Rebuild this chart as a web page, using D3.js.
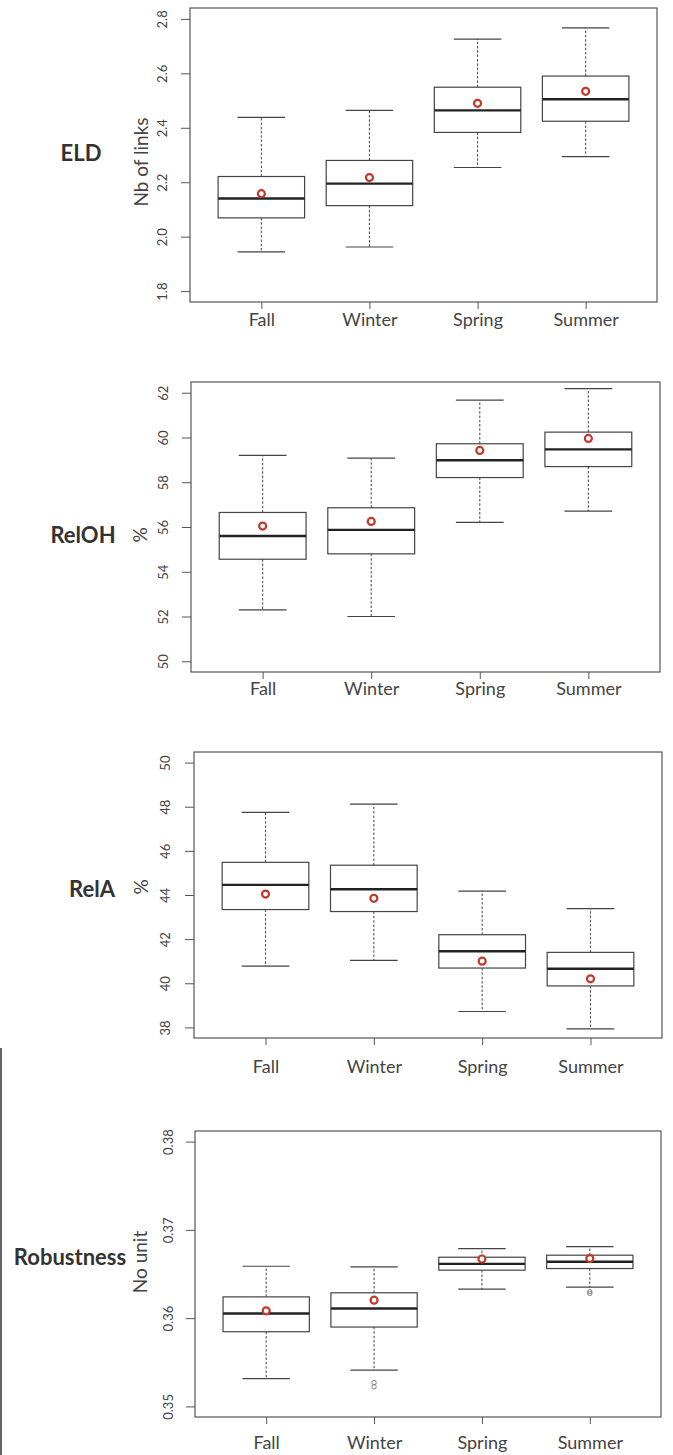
<!DOCTYPE html>
<html>
<head>
<meta charset="utf-8">
<script src="https://cdn.jsdelivr.net/npm/d3@7"></script>
<style>
  html, body { margin: 0; padding: 0; background: #fff; }
  svg { display: block; }
  .tick text { fill: #444; }
</style>
</head>
<body>
<svg id="chart"></svg>
<script>
// seasons on the x axis
const seasons = ["Fall", "Winter", "Spring", "Summer"];

// box stats per season: [lower whisker, q1, median, q3, upper whisker]
const eldStats = [
  [1.944, 2.069, 2.140, 2.221, 2.438],
  [1.962, 2.114, 2.195, 2.280, 2.464],
  [2.254, 2.383, 2.464, 2.549, 2.726],
  [2.294, 2.424, 2.505, 2.590, 2.767]
];
const eldMeans = [2.158, 2.217, 2.490, 2.534];
const eldOutliers = [[], [], [], []];
const eldTicks = [1.8, 2.0, 2.2, 2.4, 2.6, 2.8];

const relohStats = [
  [52.3, 54.56, 55.60, 56.65, 59.20],
  [52.0, 54.80, 55.87, 56.86, 59.08],
  [56.21, 58.21, 58.98, 59.72, 61.67],
  [56.71, 58.70, 59.47, 60.24, 62.18]
];
const relohMeans = [56.04, 56.25, 59.42, 59.96];
const relohOutliers = [[], [], [], []];
const relohTicks = [50, 52, 54, 56, 58, 60, 62];

const relaStats = [
  [40.78, 43.34, 44.46, 45.48, 47.74],
  [41.04, 43.25, 44.26, 45.35, 48.12],
  [38.72, 40.69, 41.45, 42.20, 44.18],
  [37.93, 39.88, 40.66, 41.40, 43.38]
];
const relaMeans = [44.04, 43.85, 41.00, 40.20];
const relaOutliers = [[], [], [], []];
const relaTicks = [38, 40, 42, 44, 46, 48, 50];

const robStats = [
  [0.35315, 0.35846, 0.36053, 0.36241, 0.36588],
  [0.35410, 0.35899, 0.36110, 0.36287, 0.36580],
  [0.36328, 0.36543, 0.36615, 0.36690, 0.36788],
  [0.36351, 0.36562, 0.36638, 0.36713, 0.36811]
];
const robMeans = [0.36083, 0.36203, 0.36670, 0.36675];
const robOutliers = [[], [0.35270, 0.35222], [], [0.36300, 0.36280]];
const robTicks = [0.35, 0.36, 0.37, 0.38];

// layout of the four panels (pixels)
const panels = [
  { name: "ELD", unit: "Nb of links", stats: eldStats, means: eldMeans, outliers: eldOutliers, ticks: eldTicks, fmt: ".1f",
    left: 190, right: 657, top: 8, bottom: 302, nameX: 81, nameY: 153, unitX: 141, unitY: 162, tickOff: 28, labelOff: 18 },
  { name: "RelOH", unit: "%", stats: relohStats, means: relohMeans, outliers: relohOutliers, ticks: relohTicks, fmt: "d",
    left: 191, right: 660, top: 382, bottom: 672, nameX: 83, nameY: 535, unitX: 140, unitY: 535, tickOff: 28, labelOff: 17 },
  { name: "RelA", unit: "%", stats: relaStats, means: relaMeans, outliers: relaOutliers, ticks: relaTicks, fmt: "d",
    left: 194, right: 662, top: 752, bottom: 1038, nameX: 92, nameY: 889, unitX: 141, unitY: 887, tickOff: 29, labelOff: 29 },
  { name: "Robustness", unit: "No unit", stats: robStats, means: robMeans, outliers: robOutliers, ticks: robTicks, fmt: ".2f",
    left: 195, right: 661, top: 1131, bottom: 1417, nameX: 70, nameY: 1257, unitX: 140, unitY: 1262, tickOff: 27, labelOff: 26 }
];

const W = 673, H = 1455;
const svg = d3.select("#chart").attr("width", W).attr("height", H);

// scanned page edge on the lower left
svg.append("rect").attr("x", 0).attr("y", 1048).attr("width", 2).attr("height", H - 1048).attr("fill", "#666");

panels.forEach(p => {
  const g = svg.append("g");

  const x = d3.scalePoint().domain(seasons).range([p.left, p.right]).padding(0.66);
  const lo = p.ticks[0], hi = p.ticks[p.ticks.length - 1];
  const pad = (hi - lo) * 0.04;
  const y = d3.scaleLinear().domain([lo - pad, hi + pad]).range([p.bottom, p.top]);

  const step = x.step();
  const bw = step * 0.4;   // half box width
  const cw = step * 0.22;  // half staple width

  // y axis
  const ya = g.append("g").attr("transform", `translate(${p.left},0)`)
    .call(d3.axisLeft(y).tickValues(p.ticks).tickSize(9).tickSizeOuter(0).tickFormat(d3.format(p.fmt)));
  ya.select(".domain").remove();
  ya.selectAll("line").attr("stroke", "#555");
  ya.selectAll("text")
    .attr("transform", "rotate(-90)")
    .attr("x", 0).attr("y", -p.tickOff).attr("dy", "0.35em")
    .attr("text-anchor", "middle")
    .style("font", "13px Lato, sans-serif");

  // x axis
  const xa = g.append("g").attr("transform", `translate(0,${p.bottom})`)
    .call(d3.axisBottom(x).tickSize(7).tickSizeOuter(0));
  xa.select(".domain").remove();
  xa.selectAll("line").attr("stroke", "#555");
  xa.selectAll("text")
    .attr("y", p.labelOff).attr("dy", "0.35em")
    .style("font", "18px Lato, sans-serif");

  // frame
  g.append("rect")
    .attr("x", p.left).attr("y", p.top)
    .attr("width", p.right - p.left).attr("height", p.bottom - p.top)
    .attr("fill", "none").attr("stroke", "#555").attr("stroke-width", 1.2);

  // boxes
  const box = g.selectAll(".box").data(seasons).join("g").attr("class", "box");

  box.append("line") // upper whisker
    .attr("x1", d => x(d)).attr("x2", d => x(d))
    .attr("y1", (d, i) => y(p.stats[i][3])).attr("y2", (d, i) => y(p.stats[i][4]))
    .attr("stroke", "#555").attr("stroke-width", 1.1).attr("stroke-dasharray", "2.5,1.8");
  box.append("line") // lower whisker
    .attr("x1", d => x(d)).attr("x2", d => x(d))
    .attr("y1", (d, i) => y(p.stats[i][1])).attr("y2", (d, i) => y(p.stats[i][0]))
    .attr("stroke", "#555").attr("stroke-width", 1.1).attr("stroke-dasharray", "2.5,1.8");
  [0, 4].forEach(k => {
    box.append("line")
      .attr("x1", d => x(d) - cw).attr("x2", d => x(d) + cw)
      .attr("y1", (d, i) => y(p.stats[i][k])).attr("y2", (d, i) => y(p.stats[i][k]))
      .attr("stroke", "#444").attr("stroke-width", 1.2);
  });
  box.append("rect")
    .attr("x", d => x(d) - bw).attr("width", bw * 2)
    .attr("y", (d, i) => y(p.stats[i][3]))
    .attr("height", (d, i) => y(p.stats[i][1]) - y(p.stats[i][3]))
    .attr("fill", "#fff").attr("stroke", "#444").attr("stroke-width", 1.2);
  box.append("line") // median
    .attr("x1", d => x(d) - bw).attr("x2", d => x(d) + bw)
    .attr("y1", (d, i) => y(p.stats[i][2])).attr("y2", (d, i) => y(p.stats[i][2]))
    .attr("stroke", "#222").attr("stroke-width", 2.4);

  // outliers
  box.each(function (d, i) {
    d3.select(this).selectAll(".out").data(p.outliers[i]).join("circle")
      .attr("class", "out")
      .attr("cx", x(d)).attr("cy", v => y(v)).attr("r", 2.2)
      .attr("fill", "none").attr("stroke", "#777").attr("stroke-width", 0.9);
  });

  // means
  box.append("circle")
    .attr("cx", d => x(d)).attr("cy", (d, i) => y(p.means[i])).attr("r", 3.5)
    .attr("fill", "#fff").attr("stroke", "#c0392b").attr("stroke-width", 2.2);

  // unit label
  g.append("text")
    .attr("transform", `translate(${p.unitX},${p.unitY}) rotate(-90)`)
    .attr("text-anchor", "middle").attr("dy", "0.35em")
    .attr("fill", "#444")
    .style("font", "19px Lato, sans-serif")
    .text(p.unit);

  // panel name
  g.append("text")
    .attr("x", p.nameX).attr("y", p.nameY)
    .attr("text-anchor", "middle").attr("dy", "0.35em")
    .attr("fill", "#333")
    .style("font", "bold 22px Lato, sans-serif")
    .text(p.name);
});
</script>
</body>
</html>
